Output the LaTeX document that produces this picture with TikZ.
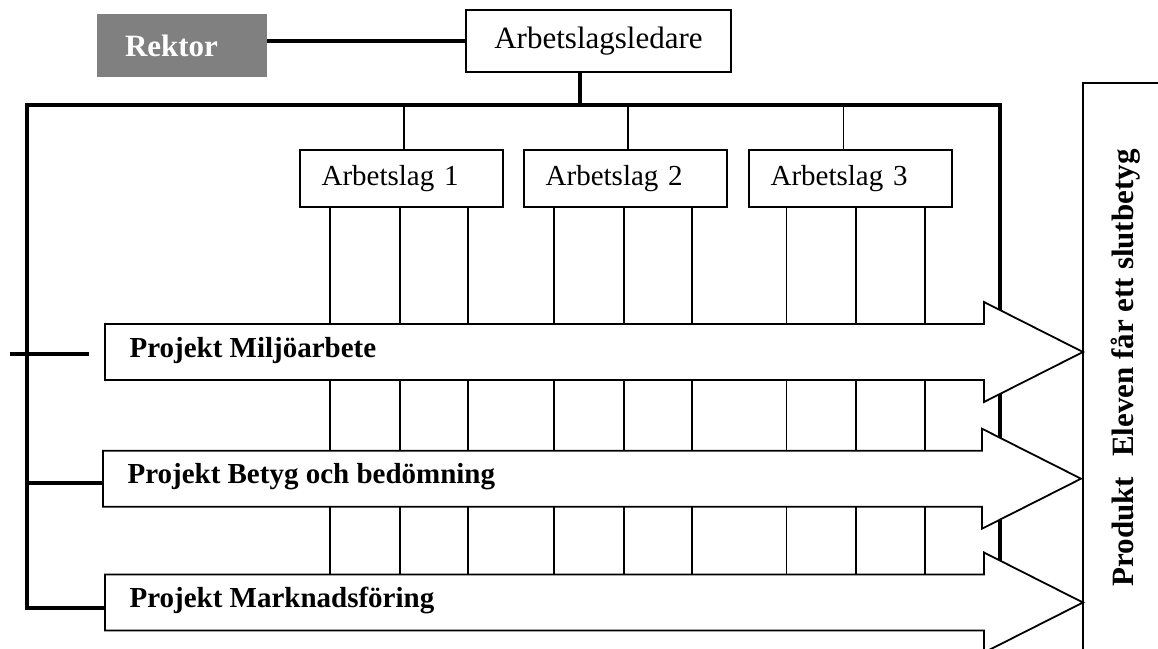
\documentclass[tikz,border=0pt]{standalone}
\usepackage{fontspec}
\setmainfont{Liberation Serif}
\usetikzlibrary{calc}
\definecolor{rektorgra}{HTML}{808080}
\tikzset{
  ruta/.style={draw, line width=1.5pt, inner ysep=0pt},
  lagruta/.style={ruta, minimum width=203pt, minimum height=57pt, text width=159.6pt, inner xsep=21.7pt, align=left, font=\fontsize{29}{34}\selectfont},
  tjock/.style={line width=3.5pt},
  tunn/.style={line width=1.5pt},
  pil/.style={draw, fill=white, line width=1.8pt, line join=miter},
  projtext/.style={anchor=base west, font=\bfseries\fontsize{29}{34}\selectfont}
}
\begin{document}
\begin{tikzpicture}[x=1pt,y=-1pt]
\useasboundingbox (0,0) rectangle (1158,648);
\clip (0,0) rectangle (1158,648);
\node[fill=rektorgra, text=white, font=\bfseries\fontsize{31}{36}\selectfont, minimum height=63pt, text width=114pt, inner xsep=28pt, align=left] (rektor) at (182,45.5) {Rektor};
\node[ruta, minimum width=265pt, minimum height=62pt, font=\fontsize{31}{36}\selectfont] (leder) at (598.5,41) {Arbetslagsledare};
\node[lagruta] (lag1) at (401.4,178.5) {Arbetslag 1};
\node[lagruta] (lag2) at (625.5,178.5) {Arbetslag 2};
\node[lagruta] (lag3) at (850.4,178.5) {Arbetslag 3};

\foreach \n/\l/\c in {1/105/352, 2/103/478.7, 3/105/602.5}
  \coordinate (pil\n) at (\l,\c);
\coordinate (knut) at (580,105);
\coordinate (vb) at (27,105);
\coordinate (hb) at (1000,105);
\coordinate (hn) at (1000,600);
\coordinate (s1) at (9.6,354);
\coordinate (s1e) at (89,354);
\coordinate (s2) at (27,483);
\coordinate (s3) at (27,608);

\draw[tjock] (rektor.east |- leder.west) -- (leder.west);
\draw[tjock] (knut |- leder.south) -- (knut);
\draw[tjock, line join=miter] (s3 -| pil3) -- (s3) -- (vb) -- (hb) -- (hn);
\draw[tjock] (s1) -- (s1e);
\draw[tjock] (s2) -- (s2 -| pil2);

\foreach \n/\x in {1/404, 2/628, 3/843.6} {
  \coordinate (d\n) at (\x,105);
  \draw[tunn] (d\n) -- (d\n |- lag\n.north);
}
\foreach \n/\x in {1/330, 1/400, 1/468, 2/554, 2/624, 2/692, 3/786.5, 3/856, 3/925} {
  \coordinate (v) at (\x,0);
  \draw[tunn] (v |- lag\n.south) -- (v |- pil3);
}

\foreach \n/\l/\c/\e/\txt in {1/105/352/984/Projekt Miljöarbete, 2/103/478.7/982/Projekt Betyg och bedömning, 3/105/602.5/984/Projekt Marknadsföring} {
  \draw[pil] (\l,\c-28) -- (\e,\c-28) -- (\e,\c-50) -- (\e+99,\c) -- (\e,\c+50) -- (\e,\c+28) -- (\l,\c+28) -- cycle;
  \node[projtext] (proj\n) at (\l+21,\c+5) {\txt};
}

\node[ruta, rotate=90, minimum width=570pt, minimum height=86pt, font=\bfseries\fontsize{31}{36}\selectfont] (produkt) at (1126,368) {Produkt\hspace{0.65em}Eleven får ett slutbetyg};
\end{tikzpicture}
\end{document}
